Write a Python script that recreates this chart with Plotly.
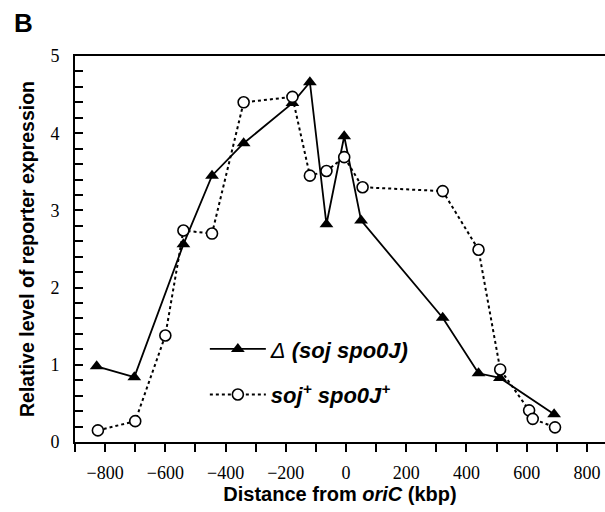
import plotly.graph_objects as go

# Δ(soj spo0J) series (filled triangles, solid line)
x_tri = [-828, -703, -540, -445, -340, -178, -120, -65, -6, 50, 321, 440, 511, 691]
y_tri = [0.98, 0.84, 2.56, 3.45, 3.87, 4.39, 4.66, 2.82, 3.96, 2.87, 1.61, 0.89, 0.83, 0.36]

# soj+ spo0J+ series (open circles, dotted line)
x_circ = [-824, -700, -600, -540, -445, -340, -178, -120, -65, -6, 55, 321, 440, 512, 608, 620, 694]
y_circ = [0.15, 0.27, 1.38, 2.74, 2.70, 4.40, 4.47, 3.45, 3.51, 3.69, 3.30, 3.25, 2.49, 0.94, 0.41, 0.30, 0.19]

name_tri = "<i>Δ</i><b><i> (soj spo0J)</i></b>"
name_circ = "<b><i>soj<sup>+</sup> spo0J<sup>+</sup></i></b>"

x_tickvals = [-800, -600, -400, -200, 0, 200, 400, 600, 800]
y_tickvals = [0, 1, 2, 3, 4, 5]

SERIF = "Liberation Serif, Times New Roman, serif"
SANS = "Liberation Sans, Arial, sans-serif"

fig = go.Figure()
fig.add_trace(go.Scatter(
    x=x_tri, y=y_tri, mode="lines+markers", name=name_tri,
    legendgroup="a",
    line=dict(color="black", width=1.8),
    marker=dict(symbol="triangle-up", size=12, color="black"),
))
fig.add_trace(go.Scatter(
    x=x_circ, y=y_circ, mode="lines+markers", name=name_circ,
    legendgroup="b",
    line=dict(color="black", width=2, dash="dot"),
    marker=dict(symbol="circle", size=11, color="white",
                line=dict(color="black", width=1.6)),
))

fig.update_layout(
    width=605, height=512,
    margin=dict(l=75, r=0, t=56, b=70),
    plot_bgcolor="white", paper_bgcolor="white",
    showlegend=True,
    legend=dict(x=0.245, y=0.295, xanchor="left", yanchor="top",
                bgcolor="rgba(0,0,0,0)", tracegroupgap=14, itemwidth=56,
                font=dict(family=SANS, size=22, color="black")),
    font=dict(family=SERIF, color="black"),
)

fig.update_xaxes(
    range=[-900, 860], showgrid=False, zeroline=False,
    showline=True, linecolor="black", linewidth=2, mirror=True,
    tickvals=x_tickvals, ticks="outside", ticklen=8, tickwidth=1.5, tickcolor="black",
    minor=dict(dtick=100, tick0=0, ticks="outside", ticklen=8, tickwidth=1.5, tickcolor="black"),
    tickfont=dict(family=SERIF, size=18, color="black"),
    ticklabelstandoff=5,
    title=dict(text="<b>Distance from <i>oriC</i> (kbp)</b>", standoff=0,
               font=dict(family=SANS, size=20, color="black")),
)
fig.update_yaxes(
    range=[0, 5], showgrid=False, zeroline=False,
    showline=True, linecolor="black", linewidth=2,
    tickvals=y_tickvals, ticks="inside", ticklen=8, tickwidth=1.5, tickcolor="black",
    minor=dict(dtick=0.2, tick0=0, ticks="inside", ticklen=8, tickwidth=1.5, tickcolor="black"),
    tickfont=dict(family=SERIF, size=18, color="black"),
    ticklabelstandoff=10,
    title=dict(text="<b>Relative level of reporter expression</b>", standoff=11,
               font=dict(family=SANS, size=19.5, color="black")),
)

fig.add_annotation(text="<b>B</b>", x=0.0, y=1.0, xref="paper", yref="paper",
                   xshift=-63, yshift=50, showarrow=False,
                   font=dict(family=SANS, size=26, color="black"))

fig.write_html("out.html")
